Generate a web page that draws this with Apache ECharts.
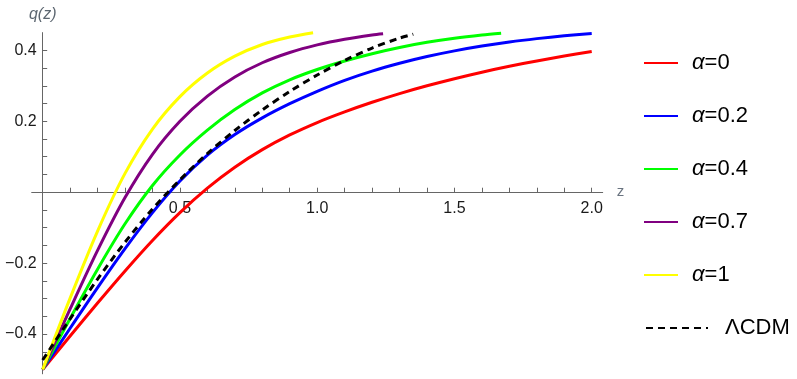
<!DOCTYPE html>
<html>
<head>
<meta charset="utf-8">
<script src="https://cdn.jsdelivr.net/npm/echarts@6/dist/echarts.min.js"></script>
<style>
  html, body { margin: 0; padding: 0; background: #fff; }
  #main { width: 797px; height: 379px; }
</style>
</head>
<body>
<div id="main"></div>
<script>
// values, z -> q(z)
var names = ['α=0', 'α=0.2', 'α=0.4', 'α=0.7', 'α=1', 'ΛCDM'];
var colors = ['#ff0000', '#0000ff', '#00ff00', '#800080', '#ffff00', '#000000'];

var zRed = [0, 0.1, 0.2, 0.3, 0.4, 0.5, 0.6, 0.7, 0.8, 0.9, 1.0, 1.1, 1.2, 1.3, 1.4, 1.5, 1.6, 1.7, 1.8, 1.9, 2.0];
var qRed = [-0.5, -0.4055, -0.3125, -0.222, -0.136, -0.0575, 0.0115, 0.0705, 0.12, 0.1615, 0.1965, 0.2265, 0.2535, 0.278, 0.3, 0.32, 0.3384, 0.355, 0.3701, 0.3839, 0.3965];

var zBlue = [0, 0.1, 0.2, 0.3, 0.4, 0.5, 0.6, 0.7, 0.8, 0.9, 1.0, 1.1, 1.2, 1.3, 1.4, 1.5, 1.6, 1.7, 1.8, 1.9, 2.0];
var qBlue = [-0.5, -0.3835, -0.269, -0.159, -0.0575, 0.0315, 0.1045, 0.1625, 0.2095, 0.2495, 0.2845, 0.3155, 0.3415, 0.3635, 0.3825, 0.3985, 0.412, 0.4235, 0.433, 0.441, 0.4475];

var zGreen = [0, 0.1, 0.2, 0.3, 0.4, 0.5, 0.6, 0.7, 0.8, 0.9, 1.0, 1.1, 1.2, 1.3, 1.4, 1.5, 1.6, 1.67];
var qGreen = [-0.5, -0.356, -0.217, -0.089, 0.019, 0.105, 0.175, 0.233, 0.28, 0.317, 0.346, 0.37, 0.3905, 0.408, 0.4225, 0.434, 0.443, 0.448];

var zPurple = [0, 0.1, 0.2, 0.3, 0.4, 0.5, 0.6, 0.7, 0.8, 0.9, 1.0, 1.1, 1.2, 1.24];
var qPurple = [-0.5, -0.329, -0.164, -0.015, 0.107, 0.2, 0.271, 0.325, 0.365, 0.394, 0.4155, 0.4315, 0.4435, 0.447];

var zYellow = [0, 0.1, 0.2, 0.3, 0.4, 0.5, 0.6, 0.7, 0.8, 0.9, 0.985];
var qYellow = [-0.5, -0.2985, -0.1095, 0.053, 0.178, 0.2695, 0.336, 0.3835, 0.4165, 0.4375, 0.4498];

var zLcdm = [0, 0.1, 0.2, 0.3, 0.4, 0.5, 0.6, 0.7, 0.8, 0.9, 1.0, 1.1, 1.2, 1.3, 1.35];
var qLcdm = [-0.473, -0.357, -0.245, -0.141, -0.0475, 0.035, 0.109, 0.174, 0.232, 0.284, 0.3305, 0.3715, 0.4065, 0.4345, 0.4455];

var xLabels = [0.5, 1.0, 1.5, 2.0];
var yLabels = [-0.4, -0.2, 0.2, 0.4];

var zs = [zRed, zBlue, zGreen, zPurple, zYellow, zLcdm];
var qs = [qRed, qBlue, qGreen, qPurple, qYellow, qLcdm];

function pairs(z, q) {
    return z.map(function (v, i) { return [v, q[i]]; });
}

// minor tick positions: every 0.1 on z, every 0.05 on q
var xTicks = [];
for (var i = 1; i <= 20; i++) xTicks.push(+(i * 0.1).toFixed(2));
var yTicks = [];
for (var j = -9; j <= 8; j++) if (j !== 0) yTicks.push(+(j * 0.05).toFixed(2));

var font = 'Liberation Sans, Arial, sans-serif';
var axisGrey = '#666666';

// plot box: z -0.04..2.04, q -0.512..0.45
var gridLeft = 31.7, gridTop = 32.6, gridW = 571, gridH = 341.2;
var zeroY = gridTop + gridH * 0.45 / 0.962;       // pixel row of q = 0
var zeroX = gridLeft + gridW * 0.04 / 2.08;        // pixel column of z = 0

var series = names.map(function (n, k) {
    return {
        name: n,
        type: 'line',
        data: pairs(zs[k], qs[k]),
        showSymbol: false,
        symbol: 'none',
        smooth: 0.3,
        lineStyle: {
            color: colors[k],
            width: 3,
            type: k === 5 ? [7, 5] : 'solid'
        },
        itemStyle: { color: colors[k] }
    };
});

var legendText = {
    fontSize: 22,
    lineHeight: 24,
    color: '#000',
    fontFamily: font,
    rich: {
        a: { fontStyle: 'italic', fontSize: 22, fontFamily: font, color: '#000' },
        g: { width: 9 },
        h: { width: 12 }
    }
};

var chart = echarts.init(document.getElementById('main'));
chart.setOption({
    animation: false,
    grid: { left: gridLeft, top: gridTop, width: gridW, height: gridH, outerBoundsMode: 'none', containLabel: false },
    legend: [
        {
            orient: 'vertical',
            left: 643, top: 51, padding: 0,
            itemWidth: 34, itemHeight: 14, itemGap: 29,
            selectedMode: false,
            itemStyle: { opacity: 0 },
            data: names.slice(0, 5),
            formatter: function (n) { return '{g| }' + n.replace('α', '{a|α}'); },
            textStyle: legendText
        },
        {
            orient: 'vertical',
            left: 645, top: 316, padding: 0,
            itemWidth: 62, itemHeight: 14,
            selectedMode: false,
            itemStyle: { opacity: 0 },
            data: names.slice(5),
            formatter: function (n) { return '{h| }' + n; },
            textStyle: legendText
        }
    ],
    xAxis: {
        type: 'value',
        min: -0.04, max: 2.04,
        position: 'bottom',
        offset: -(gridTop + gridH - zeroY),
        name: 'z',
        nameLocation: 'end',
        nameGap: 14,
        nameTextStyle: { color: '#6a7480', fontSize: 15, fontFamily: font },
        splitLine: { show: false },
        axisLine: { onZero: false, lineStyle: { color: axisGrey, width: 1 } },
        axisTick: { inside: true, length: 4.5, customValues: xTicks, lineStyle: { color: axisGrey } },
        axisLabel: {
            customValues: xLabels,
            margin: 8,
            fontSize: 16, color: '#1a1a1a', fontFamily: font,
            formatter: function (v) { return v.toFixed(1); }
        }
    },
    yAxis: {
        type: 'value',
        min: -0.512, max: 0.45,
        position: 'left',
        offset: -(zeroX - gridLeft),
        name: 'q(z)',
        nameLocation: 'end',
        nameGap: 10,
        nameTextStyle: { color: '#5c6670', fontSize: 16, fontStyle: 'italic', fontFamily: font },
        splitLine: { show: false },
        axisLine: { onZero: false, lineStyle: { color: axisGrey, width: 1 } },
        axisTick: { inside: true, length: 4.5, customValues: yTicks, lineStyle: { color: axisGrey } },
        axisLabel: {
            customValues: yLabels,
            margin: 6,
            fontSize: 16, color: '#1a1a1a', fontFamily: font,
            formatter: function (v) { return v.toFixed(1).replace('-', '\u2212'); }
        }
    },
    series: series
});
</script>
</body>
</html>
